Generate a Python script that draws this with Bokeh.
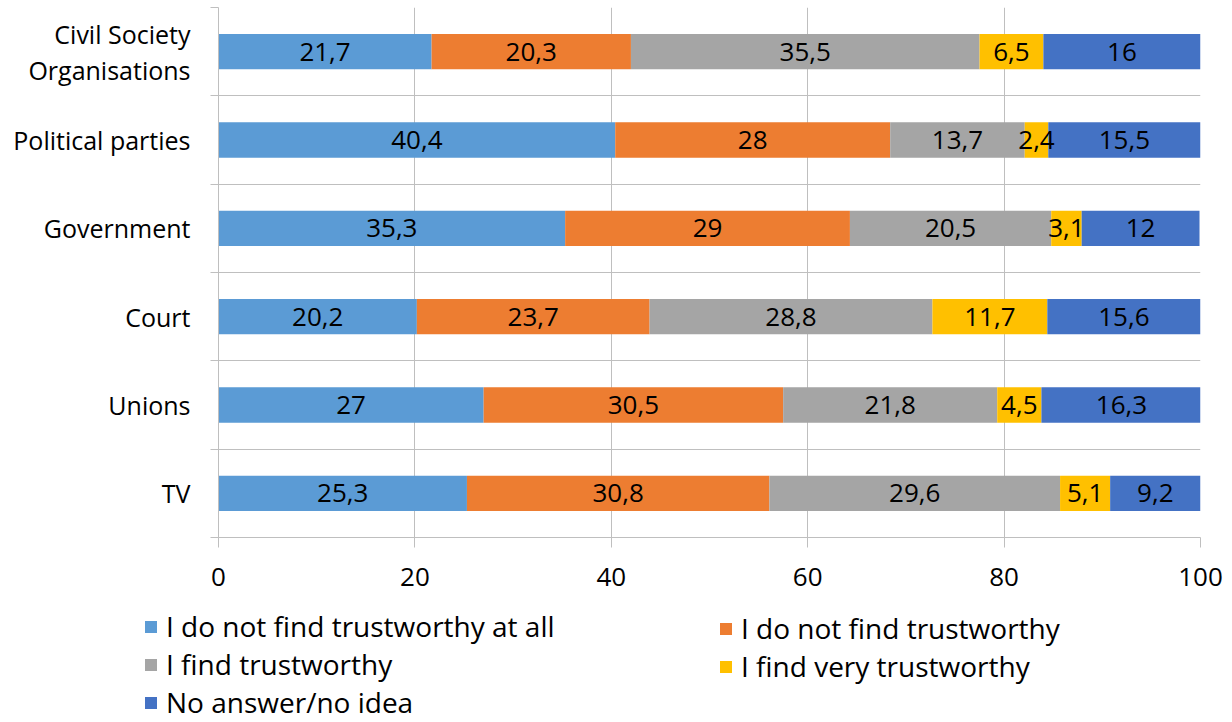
from bokeh.plotting import figure
from bokeh.models import (ColumnDataSource, FixedTicker, Legend, LegendItem,
                          Range1d, LabelSet)
from bokeh.core.properties import value
from bokeh.embed import file_html
from bokeh.resources import INLINE

# Institutions, listed top to bottom
categories = ["Civil Society\nOrganisations", "Political parties", "Government",
              "Court", "Unions", "TV"]

series_names = ["I do not find trustworthy at all", "I do not find trustworthy",
                "I find trustworthy", "I find very trustworthy", "No answer/no idea"]

not_at_all = [21.7, 40.4, 35.3, 20.2, 27.0, 25.3]
not_trust = [20.3, 28.0, 29.0, 23.7, 30.5, 30.8]
trust = [35.5, 13.7, 20.5, 28.8, 21.8, 29.6]
very_trust = [6.5, 2.4, 3.1, 11.7, 4.5, 5.1]
no_answer = [16.0, 15.5, 12.0, 15.6, 16.3, 9.2]

colors = ["#5B9BD5", "#ED7D31", "#A5A5A5", "#FFC000", "#4472C4"]
x_ticks = [0, 20, 40, 60, 80, 100]

FONT = "Open Sans"
GRID = "#BFBFBF"

series = [not_at_all, not_trust, trust, very_trust, no_answer]
keys = ["s%d" % i for i in range(len(series))]
n = len(categories)
ypos = [n - 0.5 - i for i in range(n)]

data = {"y": ypos}
for k, vals in zip(keys, series):
    data[k] = vals
source = ColumnDataSource(data)

p = figure(width=1232, height=600, output_backend="svg", toolbar_location=None,
           x_range=Range1d(0, 100), y_range=Range1d(0, n),
           min_border_left=218, min_border_right=32, min_border_top=7,
           min_border_bottom=63)
p.outline_line_color = None

p.hbar_stack(keys, y="y", height=0.4, color=colors, line_color=None, source=source)

# value labels centred in each segment
for j, (k, vals) in enumerate(zip(keys, series)):
    lefts = [sum(s[i] for s in series[:j]) for i in range(n)]
    centers = [l + v / 2 for l, v in zip(lefts, vals)]
    texts = [("%g" % v).replace(".", ",") for v in vals]
    src = ColumnDataSource(dict(x=centers, y=ypos, t=texts))
    p.add_layout(LabelSet(x="x", y="y", text="t", source=src,
                          text_align="center", text_baseline="middle",
                          text_font=value(FONT), text_font_size="26px",
                          text_color="black"))

# x axis
p.xaxis.ticker = FixedTicker(ticks=x_ticks)
p.xaxis.major_tick_out = 10
p.xaxis.major_tick_in = 0
p.xaxis.minor_tick_line_color = None
p.xaxis.major_tick_line_color = GRID
p.xaxis.axis_line_color = GRID
p.xaxis.major_label_text_font = FONT
p.xaxis.major_label_text_font_size = "26px"
p.xaxis.major_label_text_color = "black"
p.xaxis.major_label_standoff = 20
p.xgrid.ticker = FixedTicker(ticks=x_ticks)
p.xgrid.grid_line_color = GRID

# y axis: labels at category centres, ticks at boundaries
yt = FixedTicker(ticks=ypos, minor_ticks=list(range(n + 1)))
p.yaxis.ticker = yt
p.yaxis.major_label_overrides = {y: c for y, c in zip(ypos, categories)}
p.yaxis.major_tick_line_color = None
p.yaxis.minor_tick_out = 8
p.yaxis.minor_tick_in = 0
p.yaxis.minor_tick_line_color = GRID
p.yaxis.axis_line_color = GRID
p.yaxis.major_label_text_font = FONT
p.yaxis.major_label_text_font_size = "25px"
p.yaxis.major_label_text_color = "black"
p.yaxis.major_label_text_line_height = 1.05
p.yaxis.major_label_standoff = 20
p.ygrid.ticker = yt
p.ygrid.grid_line_color = None
p.ygrid.minor_grid_line_color = GRID

# legend strip below the chart
lf = figure(width=1232, height=122, output_backend="svg", toolbar_location=None,
            x_range=Range1d(0, 1), y_range=Range1d(0, 1),
            min_border=0, min_border_left=0, min_border_right=0,
            min_border_top=0, min_border_bottom=0)
lf.axis.visible = False
lf.grid.visible = False
lf.outline_line_color = None

# swatch renderers placed outside the visible range; only their legend glyphs show
swatches = [lf.rect(x=[-10], y=[-10], width=1, height=1, color=c, line_color=None)
            for c in colors]

def make_legend(idx, loc):
    items = [LegendItem(label=series_names[i], renderers=[swatches[i]]) for i in idx]
    return Legend(items=items, location=loc, orientation="vertical",
                  label_text_font=FONT, label_text_font_size="28px",
                  label_text_color="black", glyph_width=15, glyph_height=15,
                  label_standoff=8, label_height=36, spacing=0, padding=0,
                  margin=0, border_line_color=None, background_fill_alpha=0)

lf.add_layout(make_legend([0, 2, 4], (143, 1)))
lf.add_layout(make_legend([1, 3], (718, 37)))

open("out.html", "w").write(file_html((p, lf), INLINE))
